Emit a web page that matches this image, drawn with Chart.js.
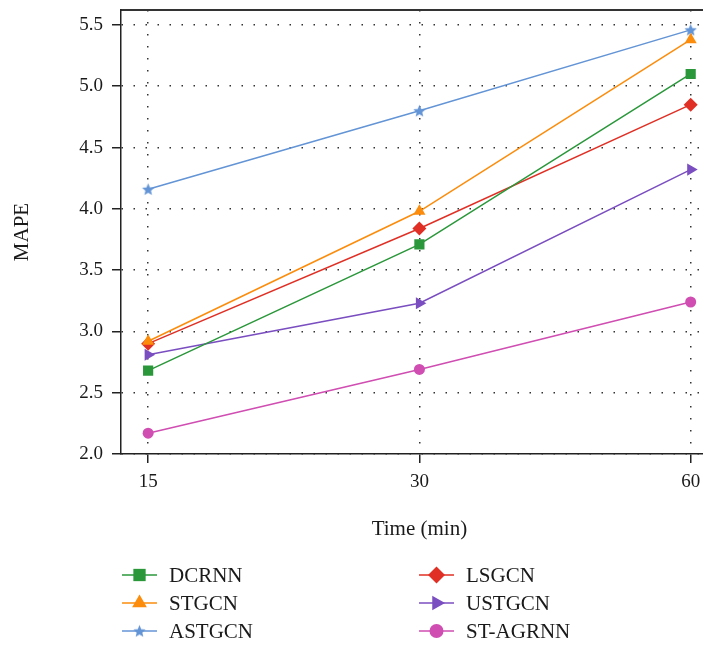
<!DOCTYPE html>
<html>
<head>
<meta charset="utf-8">
<script src="https://cdn.jsdelivr.net/npm/chart.js@4.4.1/dist/chart.umd.min.js"></script>
<style>
    html, body { margin: 0; padding: 0; overflow: hidden; background: #fff; }
    canvas { display: block; }
</style>
</head>
<body>
<canvas id="grafico" width="725" height="646"></canvas>
<script>
const xLabels = ['15', '30', '60'];
const yTicks = [2.0, 2.5, 3.0, 3.5, 4.0, 4.5, 5.0, 5.5];

const dcrnn = [2.68, 3.71, 5.10];
const stgcn = [2.92, 3.98, 5.38];
const astgcn = [4.16, 4.80, 5.46];
const lsgcn = [2.90, 3.84, 4.85];
const ustgcn = [2.81, 3.23, 4.32];
const stagrnn = [2.17, 2.69, 3.24];

const fonte = '"Liberation Serif", "DejaVu Serif", serif';

// estrela cheia para o ASTGCN (o 'star' do Chart.js é só traço)
function criarEstrela(cor, raio) {
    const c = document.createElement('canvas');
    const lado = Math.ceil(raio * 2 + 2);
    c.width = lado;
    c.height = lado;
    const ctx = c.getContext('2d');
    ctx.translate(lado / 2, lado / 2 + 0.5);
    ctx.beginPath();
    for (let i = 0; i < 10; i++) {
        const r = i % 2 === 0 ? raio : raio * 0.45;
        const a = -Math.PI / 2 + i * Math.PI / 5;
        ctx.lineTo(Math.cos(a) * r, Math.sin(a) * r);
    }
    ctx.closePath();
    ctx.fillStyle = cor;
    ctx.fill();
    return c;
}

function serie(label, valores, cor, estilo, raio, rotacao) {
    return {
        label,
        data: valores.map((v, i) => ({ x: i, y: v })),
        borderColor: cor,
        backgroundColor: cor,
        borderWidth: 1.5,
        pointStyle: estilo,
        pointRadius: raio,
        pointRotation: rotacao || 0,
        pointBorderWidth: 0,
        pointBackgroundColor: cor,
        fill: false,
        tension: 0
    };
}

const datasets = [
    serie('DCRNN', dcrnn, '#2a973a', 'rect', 7.2),
    serie('STGCN', stgcn, '#fb8c0c', 'triangle', 7),
    serie('ASTGCN', astgcn, '#6394d6', criarEstrela('#6394d6', 6.5), 6.5),
    serie('LSGCN', lsgcn, '#e03025', 'rectRot', 7),
    serie('USTGCN', ustgcn, '#7a4ec0', 'triangle', 7, 90),
    serie('ST-AGRNN', stagrnn, '#d04db2', 'circle', 5.5)
];

// legenda em duas colunas, desenhada à mão
const legendaColunas = {
    id: 'legendaColunas',
    afterDraw(chart) {
        const ctx = chart.ctx;
        const drawPoint = Chart.helpers && Chart.helpers.drawPoint;
        const colX = [122, 419];
        const y0 = chart.scales.x.bottom + 21;
        ctx.save();
        chart.data.datasets.forEach((ds, i) => {
            const x = colX[Math.floor(i / 3)];
            const y = y0 + (i % 3) * 28;
            ctx.strokeStyle = ds.borderColor;
            ctx.lineWidth = 1.5;
            ctx.beginPath();
            ctx.moveTo(x, y);
            ctx.lineTo(x + 35, y);
            ctx.stroke();
            ctx.fillStyle = ds.borderColor;
            if (drawPoint) {
                drawPoint(ctx, {
                    pointStyle: ds.pointStyle,
                    rotation: ds.pointRotation,
                    radius: ds.pointRadius + 1.5,
                    borderWidth: 0
                }, x + 17.5, y);
            } else {
                ctx.beginPath();
                ctx.arc(x + 17.5, y, ds.pointRadius, 0, Math.PI * 2);
                ctx.fill();
            }
            ctx.fillStyle = '#1a1a1a';
            ctx.font = '21px ' + fonte;
            ctx.textBaseline = 'middle';
            ctx.textAlign = 'left';
            ctx.fillText(ds.label, x + 47, y + 1);
        });
        ctx.restore();
    }
};

const grade = {
    color: '#333',
    lineWidth: 1.5,
    tickLength: 9,
    tickColor: '#222',
    tickWidth: 1.5,
    tickBorderDash: []
};

function semFolga(s) {
    s.paddingTop = 0;
    s.paddingBottom = 0;
    s.paddingLeft = 0;
    s.paddingRight = 0;
}

new Chart(document.getElementById('grafico').getContext('2d'), {
    type: 'line',
    data: { datasets },
    plugins: [legendaColunas],
    options: {
        responsive: false,
        animation: false,
        layout: { padding: { top: 10, left: 0, right: 0, bottom: 92 } },
        plugins: {
            legend: { display: false },
            tooltip: { enabled: false }
        },
        scales: {
            x: {
                type: 'linear',
                position: 'bottom',
                min: -0.1,
                max: 2.1,
                afterBuildTicks: s => { s.ticks = xLabels.map((_, i) => ({ value: i })); },
                afterFit: s => { s.height = 100; semFolga(s); },
                grid: grade,
                border: { display: true, color: '#222', width: 1.5, dash: [1.5, 10.5] },
                ticks: {
                    padding: 8,
                    color: '#1a1a1a',
                    font: { family: fonte, size: 19 },
                    maxRotation: 0,
                    callback: v => xLabels[Math.round(v)]
                },
                title: {
                    display: true,
                    text: 'Time (min)',
                    color: '#1a1a1a',
                    font: { family: fonte, size: 21 },
                    padding: { top: 0, bottom: 12 }
                }
            },
            xTopo: {
                type: 'linear',
                position: 'top',
                min: -0.1,
                max: 2.1,
                afterFit: s => { s.height = 0; semFolga(s); },
                grid: { display: false, drawTicks: false },
                ticks: { display: false },
                border: { display: true, color: '#333', width: 2 }
            },
            y: {
                min: 2,
                max: 5.622,
                afterBuildTicks: s => { s.ticks = yTicks.map(v => ({ value: v })); },
                afterFit: s => { s.width = 121; semFolga(s); },
                grid: grade,
                border: { display: true, color: '#222', width: 1.5, dash: [1.5, 10.5] },
                ticks: {
                    padding: 9,
                    color: '#1a1a1a',
                    font: { family: fonte, size: 19 },
                    callback: v => Number(v).toFixed(1)
                },
                title: {
                    display: true,
                    text: 'MAPE',
                    color: '#1a1a1a',
                    font: { family: fonte, size: 21 },
                    padding: { top: 10, bottom: 0 }
                }
            }
        }
    }
});
</script>
</body>
</html>
